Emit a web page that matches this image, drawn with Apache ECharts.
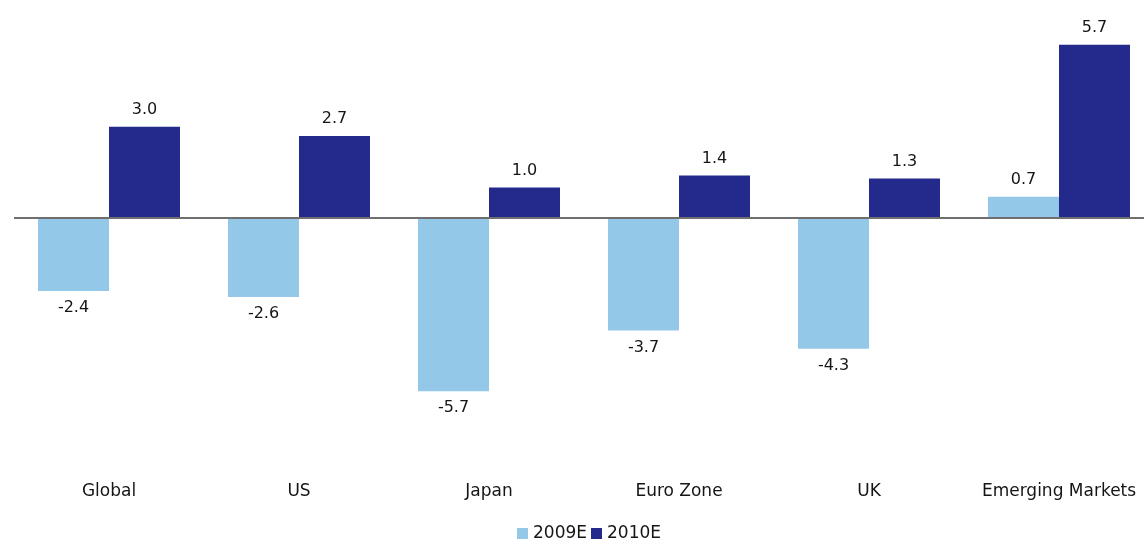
<!DOCTYPE html>
<html>
<head>
<meta charset="utf-8">
<title>GDP growth 2009E / 2010E</title>
<script src="https://cdn.jsdelivr.net/npm/echarts@6/dist/echarts.min.js"></script>
<style>
  html, body { margin: 0; padding: 0; background: #fff; overflow: hidden; }
  /* a bit wider than the window: the last category runs off the right edge */
  #chart { width: 1160px; height: 546px; }
</style>
</head>
<body>
<div id="chart"></div>
<script>
// regions on the x axis
var categories = ["Global", "US", "Japan", "Euro Zone", "UK", "Emerging Markets"];
// real GDP growth, %
var growth2009 = [-2.4, -2.6, -5.7, -3.7, -4.3, 0.7];
var growth2010 = [3.0, 2.7, 1.0, 1.4, 1.3, 5.7];
var seriesNames = ["2009E", "2010E"];

var FONT = "DejaVu Sans";
var TEXT_COLOR = "#151515";

// label goes above positive bars and below negative ones
function toBarData(values) {
  return values.map(function (v) {
    return {
      value: v,
      label: { position: v < 0 ? "bottom" : "top" }
    };
  });
}

var myChart = echarts.init(document.getElementById("chart"), null, { renderer: "canvas" });

var barLabel = {
  show: true,
  distance: 9,
  fontFamily: FONT,
  fontSize: 16,
  color: TEXT_COLOR,
  formatter: function (p) { return p.value.toFixed(1); }
};

var option = {
  backgroundColor: "#fff",
  animation: false,
  legend: {
    data: seriesNames,
    left: 512,
    top: 520,
    itemWidth: 11,
    itemHeight: 11,
    itemGap: 4,
    icon: "rect",
    textStyle: { fontFamily: FONT, fontSize: 17, color: TEXT_COLOR }
  },
  grid: {
    left: 14,
    top: 35.6,
    width: 1140,
    height: 395.2
  },
  xAxis: {
    type: "category",
    data: categories,
    axisLine: { show: false },
    axisTick: { show: false },
    axisLabel: {
      margin: 52,
      interval: 0,
      fontFamily: FONT,
      fontSize: 17,
      color: TEXT_COLOR
    }
  },
  yAxis: {
    type: "value",
    min: -7,
    max: 6,
    interval: 1,
    show: false,
    splitLine: { show: false }
  },
  series: [
    {
      name: seriesNames[0],
      type: "bar",
      barWidth: 71,
      barGap: "0%",
      itemStyle: { color: "#93c8e8" },
      label: barLabel,
      data: toBarData(growth2009),
      // zero line across the plot
      markLine: {
        silent: true,
        symbol: "none",
        label: { show: false },
        lineStyle: { color: "#6f6f6f", width: 2, type: "solid" },
        data: [{ yAxis: 0 }]
      }
    },
    {
      name: seriesNames[1],
      type: "bar",
      barWidth: 71,
      barGap: "0%",
      itemStyle: { color: "#232a8c" },
      label: barLabel,
      data: toBarData(growth2010)
    }
  ]
};

myChart.setOption(option);
</script>
</body>
</html>
